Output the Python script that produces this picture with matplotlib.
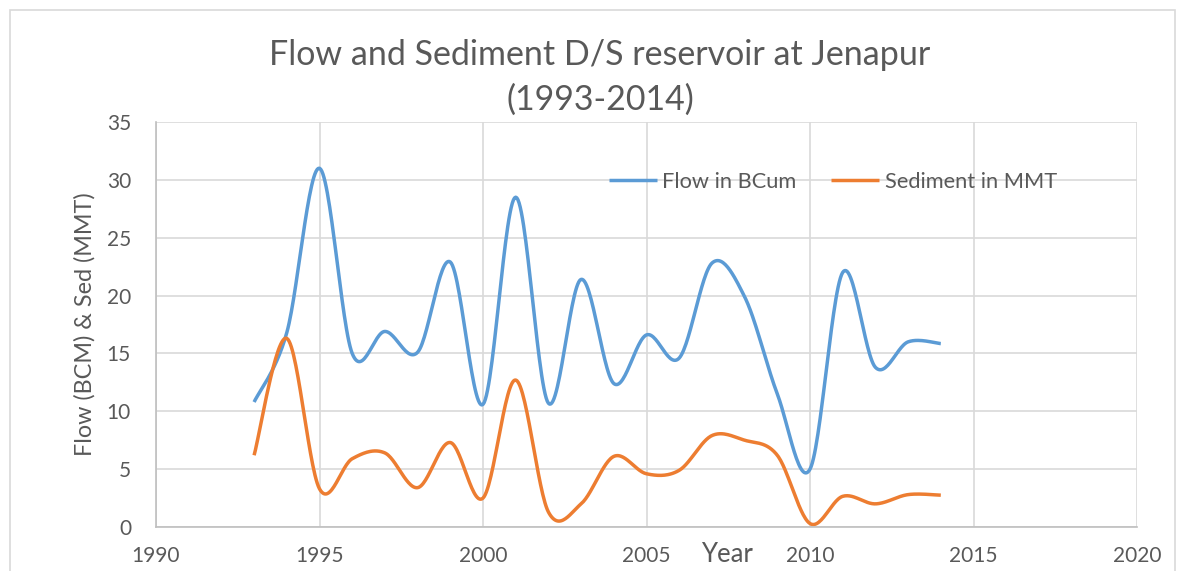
import numpy as np
import matplotlib.pyplot as plt
from matplotlib.patches import Rectangle

years = list(range(1993, 2015))
flow = [10.8, 16.8, 31.0, 15.0, 16.9, 15.1, 22.9, 10.6, 28.5, 10.7, 21.4,
        12.4, 16.6, 14.6, 22.8, 19.9, 11.5, 5.0, 22.0, 13.8, 16.0, 15.85]
sediment = [6.2, 16.3, 3.3, 5.9, 6.4, 3.4, 7.3, 2.5, 12.7, 1.3, 2.0,
            6.1, 4.6, 4.9, 7.9, 7.5, 6.2, 0.3, 2.65, 2.0, 2.8, 2.75]
xticks = [1990, 1995, 2000, 2005, 2010, 2015, 2020]
yticks = [0, 5, 10, 15, 20, 25, 30, 35]


def smooth(x, y, n=30):
    # excel style smoothed line (catmull-rom bezier)
    x = np.asarray(x, float)
    y = np.asarray(y, float)
    px = np.concatenate([[x[0]], x, [x[-1]]])
    py = np.concatenate([[y[0]], y, [y[-1]]])
    xs, ys = [], []
    t = np.linspace(0, 1, n)
    for i in range(1, len(px) - 2):
        p0 = np.array([px[i], py[i]])
        p3 = np.array([px[i + 1], py[i + 1]])
        c1 = p0 + (np.array([px[i + 1], py[i + 1]]) - np.array([px[i - 1], py[i - 1]])) / 6
        c2 = p3 - (np.array([px[i + 2], py[i + 2]]) - np.array([px[i], py[i]])) / 6
        b = ((1 - t) ** 3)[:, None] * p0 + (3 * (1 - t) ** 2 * t)[:, None] * c1 \
            + (3 * (1 - t) * t ** 2)[:, None] * c2 + (t ** 3)[:, None] * p3
        xs.extend(b[:, 0])
        ys.extend(b[:, 1])
    return xs, ys


plt.rcParams['font.family'] = ['Lato', 'DejaVu Sans']
txt = '#595959'

fig = plt.figure(figsize=(11.86, 5.71), dpi=100)
ax = fig.add_axes([156 / 1186, 1 - 527 / 571, (1137 - 156) / 1186, (527 - 122) / 571])

fig.patches.append(Rectangle((10 / 1186, -0.1), 1165 / 1186, 1.1 - 10 / 571,
                             transform=fig.transFigure, fill=False,
                             edgecolor='#d9d9d9', linewidth=1.2))

fx, fy = smooth(years, flow)
sx, sy = smooth(years, sediment)
ax.plot(fx, fy, color='#5b9bd5', linewidth=2.5, label='Flow in BCum', solid_capstyle='butt')
ax.plot(sx, sy, color='#ed7d31', linewidth=2.5, label='Sediment in MMT', solid_capstyle='butt')

ax.set_xlim(1990, 2020)
ax.set_ylim(0, 35)
ax.set_xticks(xticks)
ax.set_yticks(yticks)
ax.grid(True, color='#d9d9d9', linewidth=1.2)
ax.set_axisbelow(True)
for s in ['top', 'right']:
    ax.spines[s].set_visible(False)
for s in ['left', 'bottom']:
    ax.spines[s].set_color('#bfbfbf')
    ax.spines[s].set_linewidth(1.2)
ax.tick_params(length=0, labelsize=15, labelcolor=txt)
ax.tick_params(axis='x', pad=14)
ax.tick_params(axis='y', pad=18)

ax.set_ylabel('Flow (BCM) & Sed (MMT)', fontsize=16.8, color=txt, labelpad=8)
ax.text((727 - 156) / 981, -(554 - 527) / 405, 'Year', transform=ax.transAxes,
        ha='center', va='center', fontsize=18.5, color=txt)

fig.text(600 / 1186, 1 - 55 / 571, 'Flow and Sediment D/S reservoir at Jenapur',
         ha='center', va='center', fontsize=24.5, color=txt)
fig.text(600 / 1186, 1 - 100 / 571, '(1993-2014)',
         ha='center', va='center', fontsize=24.5, color=txt)

ax.legend(loc='center', bbox_to_anchor=(0.69, 0.852), ncol=2, frameon=False,
          fontsize=15.7, labelcolor=txt, handlelength=2.2, handletextpad=0.25,
          columnspacing=1.6)

fig.savefig('out.png', dpi=100)
